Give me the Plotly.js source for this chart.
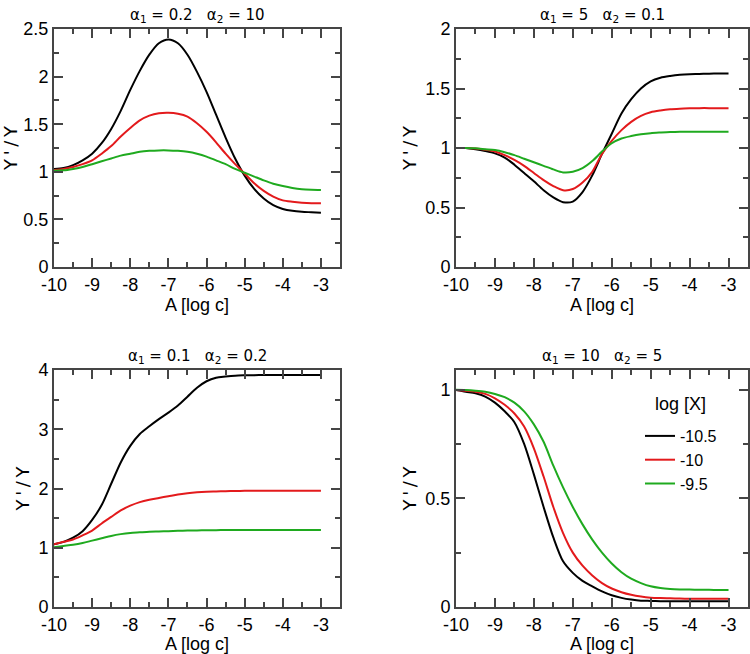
<!DOCTYPE html>
<html>
<head>
<meta charset="utf-8">
<script src="https://cdn.plot.ly/plotly-3.0.1.min.js"></script>
<style>
  html, body { margin: 0; padding: 0; background: #fff; }
  #container { width: 750px; height: 654px; }
</style>
</head>
<body>
<div id="container"></div>
<script>
// A [log c] grid, shared by every curve
var logC = [-10, -9.75, -9.5, -9.25, -9, -8.75, -8.5, -8.25, -8, -7.75, -7.5, -7.25, -7,
            -6.75, -6.5, -6.25, -6, -5.75, -5.5, -5.25, -5, -4.75, -4.5, -4.25, -4,
            -3.75, -3.5, -3.25, -3];

var logX = ['-10.5', '-10', '-9.5'];
var lineColors = ['#000000', '#e31a1c', '#1faa1f'];

var panelTitles = [
    '\u03b1<sub>1</sub> = 0.2\u00a0\u00a0\u00a0\u03b1<sub>2</sub> = 10',
    '\u03b1<sub>1</sub> = 5\u00a0\u00a0\u00a0\u03b1<sub>2</sub> = 0.1',
    '\u03b1<sub>1</sub> = 0.1\u00a0\u00a0\u00a0\u03b1<sub>2</sub> = 0.2',
    '\u03b1<sub>1</sub> = 10\u00a0\u00a0\u00a0\u03b1<sub>2</sub> = 5'
];

var xTickVals = [-10, -9, -8, -7, -6, -5, -4, -3];
var xTickText = ['-10', '-9', '-8', '-7', '-6', '-5', '-4', '-3'];

// panel 1: alpha1 = 0.2, alpha2 = 10
var p1_m105 = [1.03, 1.04, 1.07, 1.12, 1.19, 1.30, 1.45, 1.64, 1.86, 2.06, 2.23, 2.35, 2.39,
               2.35, 2.23, 2.05, 1.84, 1.60, 1.36, 1.14, 0.96, 0.82, 0.72, 0.65, 0.61,
               0.59, 0.58, 0.575, 0.57];
var p1_m10 = [1.02, 1.03, 1.05, 1.08, 1.12, 1.19, 1.27, 1.37, 1.46, 1.54, 1.59, 1.615, 1.62,
              1.61, 1.58, 1.51, 1.42, 1.31, 1.19, 1.08, 0.98, 0.88, 0.80, 0.74, 0.70,
              0.685, 0.675, 0.67, 0.67];
var p1_m95 = [1.01, 1.015, 1.03, 1.05, 1.08, 1.11, 1.14, 1.17, 1.19, 1.21, 1.22, 1.225, 1.225,
              1.22, 1.21, 1.19, 1.16, 1.12, 1.08, 1.03, 0.99, 0.95, 0.91, 0.875, 0.85,
              0.83, 0.817, 0.812, 0.81];

// panel 2: alpha1 = 5, alpha2 = 0.1
var p2_m105 = [1.0, 1.0, 0.99, 0.975, 0.955, 0.92, 0.86, 0.79, 0.72, 0.645, 0.585, 0.545, 0.55,
               0.63, 0.77, 0.95, 1.12, 1.29, 1.41, 1.50, 1.56, 1.59, 1.605, 1.615, 1.62,
               1.622, 1.625, 1.626, 1.627];
var p2_m10 = [1.0, 1.0, 0.995, 0.985, 0.97, 0.94, 0.90, 0.85, 0.79, 0.73, 0.68, 0.645, 0.655,
              0.71, 0.80, 0.95, 1.06, 1.15, 1.22, 1.27, 1.30, 1.315, 1.325, 1.33, 1.333,
              1.335, 1.335, 1.335, 1.335];
var p2_m95 = [1.0, 1.0, 0.997, 0.99, 0.983, 0.965, 0.94, 0.91, 0.88, 0.85, 0.82, 0.795, 0.80,
              0.83, 0.89, 0.97, 1.04, 1.08, 1.10, 1.115, 1.125, 1.13, 1.134, 1.136, 1.137,
              1.137, 1.137, 1.137, 1.137];

// panel 3: alpha1 = 0.1, alpha2 = 0.2
var p3_m105 = [1.06, 1.10, 1.17, 1.28, 1.47, 1.72, 2.08, 2.44, 2.72, 2.92, 3.05, 3.17, 3.28,
               3.40, 3.55, 3.70, 3.81, 3.87, 3.89, 3.905, 3.91, 3.913, 3.915, 3.915, 3.915,
               3.915, 3.915, 3.915, 3.915];
var p3_m10 = [1.06, 1.10, 1.14, 1.21, 1.29, 1.41, 1.52, 1.63, 1.71, 1.77, 1.81, 1.84, 1.87,
              1.90, 1.92, 1.935, 1.945, 1.95, 1.955, 1.957, 1.96, 1.96, 1.96, 1.96, 1.96,
              1.96, 1.96, 1.96, 1.96];
var p3_m95 = [1.01, 1.03, 1.05, 1.08, 1.12, 1.16, 1.20, 1.23, 1.25, 1.26, 1.27, 1.275, 1.28,
              1.285, 1.29, 1.293, 1.295, 1.297, 1.30, 1.30, 1.30, 1.30, 1.30, 1.30, 1.30,
              1.30, 1.30, 1.30, 1.30];

// panel 4: alpha1 = 10, alpha2 = 5
var p4_m105 = [0.998, 0.99, 0.983, 0.968, 0.94, 0.90, 0.85, 0.75, 0.61, 0.46, 0.32, 0.21, 0.157,
               0.12, 0.095, 0.072, 0.054, 0.042, 0.034, 0.029, 0.028, 0.027, 0.026, 0.026, 0.026,
               0.026, 0.026, 0.026, 0.026];
var p4_m10 = [0.998, 0.995, 0.99, 0.98, 0.96, 0.93, 0.89, 0.83, 0.73, 0.60, 0.46, 0.34, 0.25,
              0.19, 0.145, 0.11, 0.085, 0.068, 0.056, 0.048, 0.043, 0.041, 0.04, 0.039, 0.038,
              0.038, 0.038, 0.038, 0.038];
var p4_m95 = [0.999, 0.998, 0.995, 0.99, 0.98, 0.965, 0.94, 0.90, 0.84, 0.76, 0.65, 0.55, 0.46,
              0.38, 0.31, 0.25, 0.20, 0.16, 0.13, 0.11, 0.095, 0.087, 0.083, 0.081, 0.08,
              0.079, 0.079, 0.078, 0.078];

var panels = [
    {series: [p1_m105, p1_m10, p1_m95], yrange: [0, 2.5], dtick: 0.5, minor: 0.25},
    {series: [p2_m105, p2_m10, p2_m95], yrange: [0, 2], dtick: 0.5, minor: 0.25},
    {series: [p3_m105, p3_m10, p3_m95], yrange: [0, 4], dtick: 1, minor: 0.5},
    {series: [p4_m105, p4_m10, p4_m95], yrange: [0, 1.09], dtick: 0.5, minor: 0.25}
];

// pixel boxes of the four plot areas (left, right, top, bottom)
var W = 750, H = 654;
var boxes = [
    [54, 340, 29, 267],
    [456, 748, 29, 267],
    [54, 340, 370, 607],
    [456, 748, 370, 607]
];

var axisColor = '#454545';
var fontFam = '"Liberation Sans", Arial, sans-serif';
var titleFam = '"DejaVu Sans", sans-serif';

// plotly writes negatives with U+2212, the figure uses a plain hyphen
var xAlias = {};
xTickVals.forEach(function (v, i) {
    xAlias['\u2212' + Math.abs(v)] = xTickText[i];
});

var data = [];
var layout = {
    width: W,
    height: H,
    margin: {l: 0, r: 0, t: 0, b: 0, autoexpand: false},
    paper_bgcolor: '#ffffff',
    plot_bgcolor: '#ffffff',
    font: {family: fontFam, size: 18, color: '#000'},
    hovermode: false,
    showlegend: false
};

// legend and texts are added once the axes are drawn
var annotations = [{
    text: 'log [X]',
    xref: 'paper',
    yref: 'paper',
    x: 653 / W,
    y: 1 - 404 / H,
    xanchor: 'left',
    yanchor: 'middle',
    showarrow: false,
    font: {size: 18}
}];
var tickFix = {};

panels.forEach(function (p, i) {
    var n = i + 1;
    var suffix = n === 1 ? '' : String(n);
    var xa = 'x' + suffix;
    var ya = 'y' + suffix;
    var b = boxes[i];

    p.series.forEach(function (ys, k) {
        data.push({
            x: logC,
            y: ys,
            xaxis: xa,
            yaxis: ya,
            type: 'scatter',
            mode: 'lines',
            name: logX[k],
            showlegend: n === 4,
            line: {color: lineColors[k], width: 2, shape: 'spline', smoothing: 0.8}
        });
    });

    layout['xaxis' + suffix] = {
        domain: [b[0] / W, b[1] / W],
        anchor: ya,
        range: [-10, -2.5],
        dtick: 1,
        labelalias: xAlias,
        ticks: 'inside',
        ticklen: 8,
        tickwidth: 2,
        tickcolor: axisColor,
        minor: {dtick: 0.5, ticks: 'inside', ticklen: 5, tickwidth: 2, tickcolor: axisColor},
        showline: true,
        linecolor: axisColor,
        linewidth: 2,
        mirror: 'ticks',
        showgrid: false,
        zeroline: false,
        automargin: false,
        tickfont: {size: 18},
        title: {text: 'A [log c]', standoff: 2, font: {size: 18}}
    };

    layout['yaxis' + suffix] = {
        domain: [1 - b[3] / H, 1 - b[2] / H],
        anchor: xa,
        range: p.yrange,
        dtick: p.dtick,
        ticks: 'inside',
        ticklen: 8,
        tickwidth: 2,
        tickcolor: axisColor,
        minor: {dtick: p.minor, ticks: 'inside', ticklen: 5, tickwidth: 2, tickcolor: axisColor},
        showline: true,
        linecolor: axisColor,
        linewidth: 2,
        mirror: 'ticks',
        showgrid: false,
        zeroline: false,
        automargin: false,
        tickfont: {size: 18},
        title: {text: "Y\u2009'\u2009/\u2009Y", standoff: 4, font: {family: titleFam, size: 18}}
    };

    // final tick length, set last so the axes get redrawn after the texts
    tickFix['xaxis' + suffix + '.ticklen'] = 9;
    tickFix['yaxis' + suffix + '.ticklen'] = 9;

    // panel title just above the frame
    annotations.push({
        text: panelTitles[i],
        xref: 'paper',
        yref: 'paper',
        x: (b[0] + b[1]) / 2 / W,
        y: 1 - b[2] / H,
        xanchor: 'center',
        yanchor: 'bottom',
        yshift: 2,
        showarrow: false,
        font: {family: titleFam, size: 15}
    });
});

Plotly.newPlot('container', data, layout, {displayModeBar: false}).then(function (gd) {
    var update = {
        showlegend: true,
        'legend.x': 640 / W,
        'legend.y': 1 - 419 / H,
        'legend.xanchor': 'left',
        'legend.yanchor': 'top',
        'legend.bgcolor': 'rgba(0,0,0,0)',
        'legend.font.size': 16
    };
    annotations.forEach(function (a, i) {
        update['annotations[' + i + ']'] = a;
    });
    return Plotly.relayout(gd, update);
}).then(function (gd) {
    return Plotly.relayout(gd, tickFix);
});
</script>
</body>
</html>
